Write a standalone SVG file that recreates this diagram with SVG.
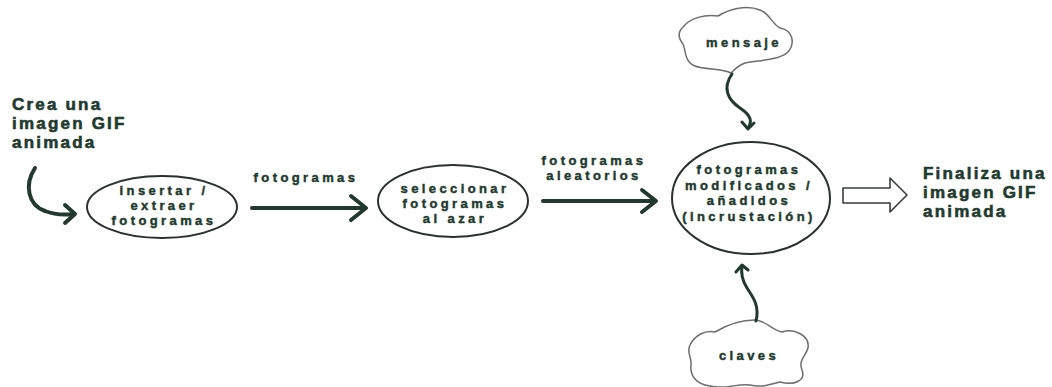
<svg xmlns="http://www.w3.org/2000/svg" width="1052" height="387" viewBox="0 0 1052 387">
<style>
.t{font-family:"Liberation Sans",Arial,sans-serif;font-weight:bold;fill:#1f3a2e;stroke:#1f3a2e;stroke-width:0.45px}
.big{font-size:17px;letter-spacing:2.2px;stroke-width:0.6px}
.n{font-size:13px;letter-spacing:3.4px;text-anchor:middle}
.el{fill:none;stroke:#2b312e;stroke-width:2}
.cl{fill:#fff;stroke:#6e6e6e;stroke-width:1.5}
.ar{fill:none;stroke:#22392f;stroke-width:4;stroke-linecap:round;stroke-linejoin:round}
.sq{fill:none;stroke:#22392f;stroke-width:3;stroke-linecap:round;stroke-linejoin:round}
</style>
<rect width="1052" height="387" fill="#fff"/>
<g id="start">
<text class="t big" x="12" y="110">Crea una</text>
<text class="t big" x="12" y="129">imagen GIF</text>
<text class="t big" x="12" y="148">animada</text>
</g>
<g id="node1">
<ellipse class="el" cx="162" cy="207" rx="75" ry="31"/>
<text class="t n" x="164" y="195">insertar /</text>
<text class="t n" x="164" y="210">extraer</text>
<text class="t n" x="164" y="225">fotogramas</text>
</g>
<g id="node2">
<ellipse class="el" cx="453" cy="201" rx="75" ry="36"/>
<text class="t n" x="455" y="193">seleccionar</text>
<text class="t n" x="455" y="208">fotogramas</text>
<text class="t n" x="455" y="223">al azar</text>
</g>
<g id="node3">
<ellipse class="el" cx="751" cy="198" rx="79" ry="56"/>
<text class="t n" x="749" y="174">fotogramas</text>
<text class="t n" x="749" y="190">modificados /</text>
<text class="t n" x="749" y="205">añadidos</text>
<text class="t n" x="749" y="221">(incrustación)</text>
</g>
<g id="mensaje">
<path class="cl" d="M 683 27 C 690 18, 705 14, 718 16 C 728 10, 745 4, 760 10 C 770 14, 772 24, 780 28 C 792 30, 796 42, 788 52 C 780 60, 760 60, 745 63 C 737 66, 734 70, 731 73 C 722 68, 705 70, 695 66 C 684 62, 686 50, 683 44 C 678 38, 678 32, 683 27 Z"/>
<text class="t n" x="744" y="47">mensaje</text>
</g>
<g id="claves">
<path class="cl" d="M 690 345 C 695 335, 705 330, 715 332 C 725 326, 740 320, 755 320 C 765 320, 772 330, 782 332 C 795 328, 810 336, 808 348 C 806 356, 798 360, 802 370 C 806 380, 795 386, 780 382 C 770 384, 762 388, 750 385 C 738 383, 725 390, 710 386 C 695 384, 690 375, 691 365 C 692 357, 686 352, 690 345 Z"/>
<text class="t n" x="749" y="360">claves</text>
</g>
<g id="end">
<text class="t big" x="923" y="179">Finaliza una</text>
<text class="t big" x="923" y="198">imagen GIF</text>
<text class="t big" x="923" y="217">animada</text>
</g>
<g id="connectors">
<path class="ar" d="M 35 168 C 24 185, 28 205, 45 211 C 55 215, 65 215, 74 214"/>
<polyline class="ar" points="65,205 75,214 65,223"/>
<line class="ar" x1="252" y1="208" x2="364" y2="208"/>
<polyline class="ar" points="351,196 366,208 351,220"/>
<text class="t n" x="306" y="182">fotogramas</text>
<line class="ar" x1="543" y1="201" x2="654" y2="201"/>
<polyline class="ar" points="642,190 656,201 642,212"/>
<text class="t n" x="594" y="165">fotogramas</text>
<text class="t n" x="594" y="180">aleatorios</text>
<path class="sq" d="M 732 74 C 722 88, 728 100, 740 108 C 752 116, 752 122, 748 128"/>
<polyline class="sq" points="742,122 748,129 754,123"/>
<path class="sq" d="M 756 321 C 760 305, 752 296, 747 288 C 742 280, 741 272, 742 266"/>
<polyline class="sq" points="736,272 742,265 748,270"/>
<polygon points="843,188 890,188 890,178 907,195 890,212 890,203 843,203" fill="#fff" stroke="#3a3d3b" stroke-width="1.6" stroke-linejoin="round"/>
</g>
</svg>
